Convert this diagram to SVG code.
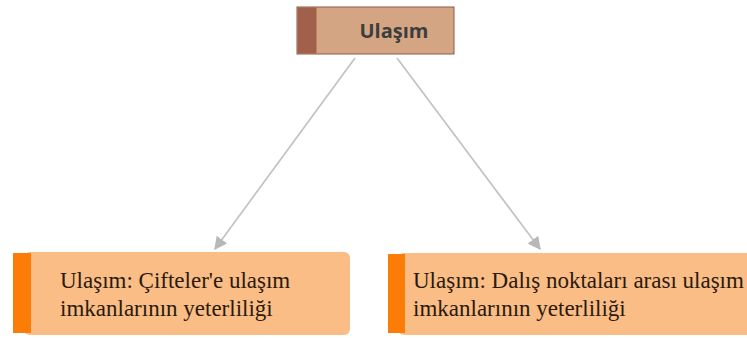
<svg xmlns="http://www.w3.org/2000/svg" width="747" height="338" viewBox="0 0 747 338">
<style>
.top{fill:#d4a582;stroke:#8c5a48;stroke-width:1}
.topstrip{fill:#a0604c}
.box{fill:#fabd85}
.strip{fill:#fb7d08}
.t1{font-family:"Open Sans","Liberation Sans",sans-serif;font-weight:bold;font-size:20px;fill:#3d3d3d}
.t2{font-family:"Liberation Serif",serif;font-size:23px;fill:#2a1a0e}
.conn{stroke:#c4c4c4;stroke-width:1.8;fill:none;marker-end:url(#ah)}
</style>
<defs>
<marker id="ah" viewBox="0 0 10 10" refX="9" refY="5" markerWidth="13" markerHeight="13" markerUnits="userSpaceOnUse" orient="auto">
<path d="M0,0 L10,5 L0,10 z" fill="#b8b8b8"/>
</marker>
</defs>
<rect width="747" height="338" fill="#ffffff"/>
<g id="connectors">
<path class="conn" d="M355,58 L215,249"/>
<path class="conn" d="M397,58 L540,249"/>
</g>
<g id="node-top">
<rect class="top" x="297" y="7" width="157" height="47"/>
<rect class="topstrip" x="297.5" y="7.5" width="19" height="46"/>
<text class="t1" x="394" y="38" text-anchor="middle">Ulaşım</text>
</g>
<g id="node-left">
<rect class="box" x="24" y="252" width="326" height="83" rx="6"/>
<rect class="strip" x="13" y="253" width="18" height="80"/>
<text class="t2" x="60" y="288">Ulaşım: Çifteler'e ulaşım</text>
<text class="t2" x="60" y="316">imkanlarının yeterliliği</text>
</g>
<g id="node-right">
<rect class="box" x="398" y="253" width="360" height="82" rx="6"/>
<rect class="strip" x="388" y="254" width="17" height="79"/>
<text class="t2" x="413" y="288">Ulaşım: Dalış noktaları arası ulaşım</text>
<text class="t2" x="413" y="316">imkanlarının yeterliliği</text>
</g>
</svg>
